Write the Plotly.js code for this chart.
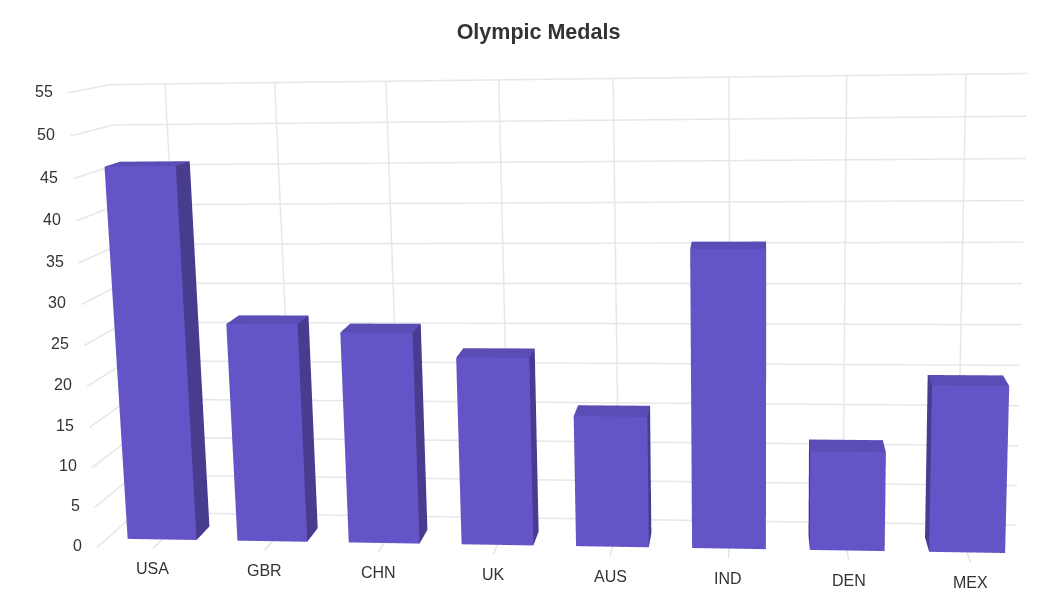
<!DOCTYPE html>
<html><head><meta charset="utf-8">
<script src="https://cdn.plot.ly/plotly-3.0.1.min.js"></script>
<style>html,body{margin:0;padding:0;background:#fff;overflow:hidden}#w{position:absolute;left:0;top:0;width:1048px;height:616px;overflow:hidden}#c{position:absolute}</style>
</head><body><div id="w"><div id="c"></div></div>
<script>
const categories=['USA','GBR','CHN','UK','AUS','IND','DEN','MEX'];
const medals=[46,27,26,23,16,36,12,20];
const zTicks=[0,5,10,15,20,25,30,35,40,45,50,55];
// fitted view of the chart box
const eye=[.4377,-3.7796,.7537],center=[.0141,0,.0870],up=[.0112,.0729,1];
const kx=.2520,ky=.0978,focal=1819.66,px=556.13,py=280.58;
const hw=.3144,wallY=2.0113,tk=.6542,yF=-.6333,xL=-.5031,xR=7.5109;
const xR0=xL-.1,xR1=xR+.1,yR0=Math.min(yF,-tk)-.1,yR1=wallY+.1,zR0=-1,zR1=56;
const H=2*focal*Math.tan(Math.PI/8),W=2*Math.max(px,1048-px)+2;
const divL=px-W/2,divT=py-H/2;const c=document.getElementById('c');c.style.left=divL+'px';c.style.top=divT+'px';
const sh=[((xR0+xR1)/2-3.5)*kx,(yR0+yR1)/2*ky,((zR0+zR1)/2-27.5)/55];
const asp={x:kx*(xR1-xR0),y:ky*(yR1-yR0),z:(zR1-zR0)/55};
const cam={eye:{x:eye[0]-sh[0],y:eye[1]-sh[1],z:eye[2]-sh[2]},center:{x:center[0]-sh[0],y:center[1]-sh[1],z:center[2]-sh[2]},up:{x:up[0],y:up[1],z:up[2]},projection:{type:'perspective'}};
const vx=[],vy=[],vz=[],I=[],J=[],K=[],fc=[];const cF='#6355c7',cS='#483c8e',cT='#5a4db5';
medals.forEach((v,i)=>{const b=vx.length;[[-1,0,0],[1,0,0],[1,1,0],[-1,1,0],[-1,0,1],[1,0,1],[1,1,1],[-1,1,1]].forEach(a=>{vx.push(i+a[0]*hw);vy.push(a[1]);vz.push(a[2]*v)});
 [[0,1,5,4,cF],[2,3,7,6,cF],[0,3,7,4,cS],[1,2,6,5,cS],[4,5,6,7,cT],[0,1,2,3,cT]].forEach(q=>{I.push(b+q[0],b+q[0]);J.push(b+q[1],b+q[2]);K.push(b+q[2],b+q[3]);fc.push(q[4],q[4])})});
const gx=[],gy=[],gz=[];zTicks.forEach(z=>{gx.push(xL,xL,xR,null);gy.push(yF,wallY,wallY,null);gz.push(z,z,z,null)});
categories.forEach((n,i)=>{gx.push(i,i,null);gy.push(wallY,wallY,null);gz.push(0,55,null)});
const tx=[],ty=[],tz=[];categories.forEach((n,i)=>{tx.push(i,i,null);ty.push(-tk,0,null);tz.push(0,0,null)});
const fam='"Liberation Sans",Arial,sans-serif';
const fnt={family:fam,size:16,color:'#333'};
const anns=zTicks.map(z=>({x:xL,y:yF,z,text:String(z),showarrow:false,xanchor:'right',yanchor:'middle',xshift:-13,yshift:z<35?2:1,font:fnt})).concat(categories.map((n,i)=>({x:i,y:-tk,z:0,text:n,showarrow:false,xanchor:'center',yanchor:'middle',yshift:-20,font:fnt})));
const ax={showgrid:false,zeroline:false,showline:false,showticklabels:false,showbackground:false,showspikes:false,ticks:'',title:{text:''}};
const traces=[{type:'scatter3d',mode:'lines',x:gx,y:gy,z:gz,line:{color:'#e6e6ec',width:3},hoverinfo:'skip',showlegend:false},
{type:'scatter3d',mode:'lines',x:tx,y:ty,z:tz,line:{color:'#e4e4e4',width:3},hoverinfo:'skip',showlegend:false},
{type:'mesh3d',x:vx,y:vy,z:vz,i:I,j:J,k:K,facecolor:fc,flatshading:true,lighting:{ambient:1,diffuse:0,specular:0,roughness:1,fresnel:0},hoverinfo:'skip',showscale:false}];
const layout={width:W,height:H,margin:{l:0,r:0,t:0,b:0},paper_bgcolor:'#fff',showlegend:false,
 title:{text:'<b>Olympic Medals</b>',x:(538.5-divL)/W,xanchor:'center',y:1-(31-divT)/H,yanchor:'middle',font:{family:fam,size:21.5,color:'#333'}},
 scene:{dragmode:'orbit',hovermode:false,domain:{x:[0,1],y:[0,1]},aspectmode:'manual',aspectratio:asp,camera:cam,
  xaxis:{...ax,range:[xR0,xR1]},yaxis:{...ax,range:[yR0,yR1]},zaxis:{...ax,range:[zR0,zR1]},annotations:anns}};
Plotly.newPlot('c',traces,layout,{displayModeBar:false});
</script></body></html>
